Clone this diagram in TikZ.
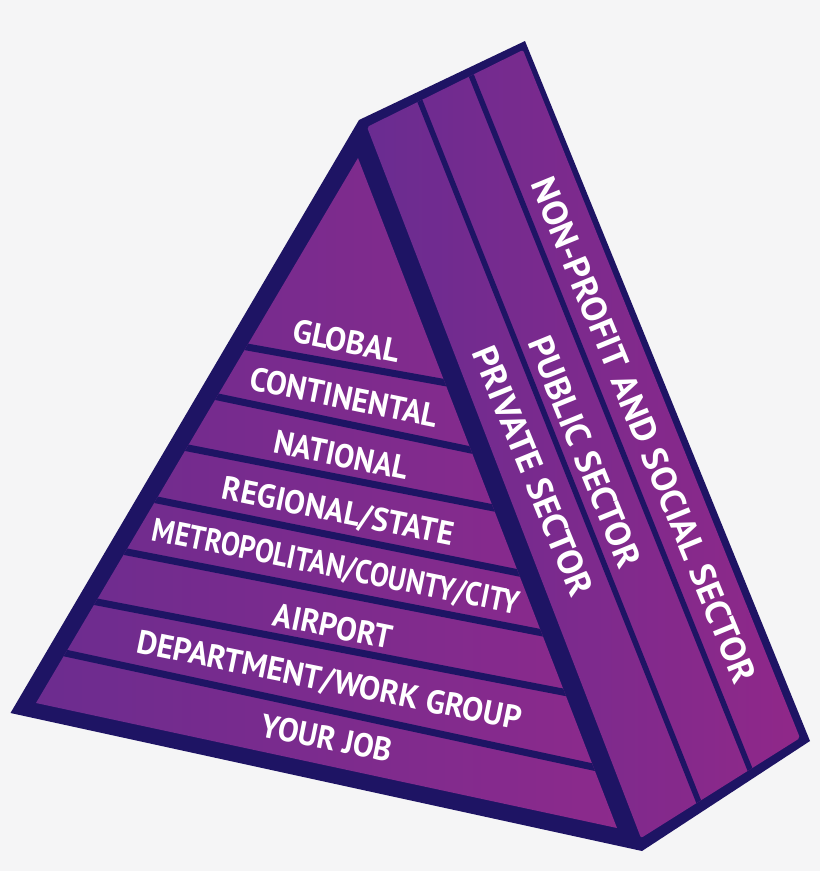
\documentclass[tikz,border=0pt]{standalone}
\usepackage{fontspec}
\usepackage{graphicx}
\usetikzlibrary{calc}
\newfontfamily\lab{PT Sans}
\newcommand\fitw[2]{\resizebox{#1pt}{\height}{#2}}
\definecolor{navy}{HTML}{1E1464}
\definecolor{bgc}{HTML}{F5F5F6}
\definecolor{purpL}{HTML}{6C2C8F}
\definecolor{purpR}{HTML}{8C2A8C}
\definecolor{sideL}{HTML}{6A2C91}
\definecolor{sideR}{HTML}{902889}
\tikzset{
  lvl/.style={text=white, font=\lab\bfseries\fontsize{33}{33}\selectfont, rotate=-11.5, inner sep=0pt},
  sec/.style={text=white, font=\lab\bfseries\fontsize{35}{35}\selectfont, rotate=-67.8, inner sep=0pt},
  sepline/.style={navy, line width=7pt},
  divline/.style={navy, line width=5.5pt},
}
\begin{document}
\begin{tikzpicture}[x=1pt,y=-1pt]
\useasboundingbox (0,0) rectangle (820,871);
\fill[bgc] (0,0) rectangle (820,871);
% silhouette
\fill[navy] (10.5,713) -- (359,120) -- (525,41) -- (810,741) -- (642,851) -- cycle;
% front face
\shade[left color=purpL, right color=purpR] (36,703) -- (358,158) -- (617,828) -- cycle;
% side face
\shade[left color=sideL, right color=sideR, rounded corners=2pt] (367,127) -- (523,50) -- (800,738) -- (641,838) -- cycle;
% separators on front face
\begin{scope}
\clip (36,703) -- (358,158) -- (617,828) -- cycle;
\foreach \ax/\ay/\bx/\by in {247/347/447/383, 218/397/471/450, 188/448/494/508, 157/500/519/573, 127/552/543/633, 97/602/568/693, 65/653/593/767}{
  \draw[sepline] ($(\ax,\ay)!-0.2!(\bx,\by)$) -- ($(\bx,\by)!-0.2!(\ax,\ay)$);
}
\end{scope}
% dividers on side face
\begin{scope}
\clip (367,127) -- (523,50) -- (800,738) -- (641,838) -- cycle;
\draw[divline] ($(419.5,100)!-0.1!(700,805)$) -- ($(700,805)!-0.1!(419.5,100)$);
\draw[divline] ($(470.5,73.5)!-0.1!(750,769.5)$) -- ($(750,769.5)!-0.1!(470.5,73.5)$);
\end{scope}
% level labels
\node[lvl] (global) at (347,341) {\fitw{108}{GLOBAL}};
\node[lvl] (continental) at (344,397) {\fitw{191}{CONTINENTAL}};
\node[lvl] (national) at (341,455) {\fitw{136}{NATIONAL}};
\node[lvl] (regional) at (338,513) {\fitw{235}{REGIONAL/STATE}};
\node[lvl] (metro) at (336,568) {\fitw{374}{METROPOLITAN/COUNTY/CITY}};
\node[lvl] (airport) at (333,626) {\fitw{120}{AIRPORT}};
\node[lvl] (dept) at (329,682) {\fitw{391}{DEPARTMENT/WORK GROUP}};
\node[lvl] (yourjob) at (327,738) {\fitw{133}{YOUR JOB}};
% sector labels
\node[sec] (private) at (533,471) {\fitw{266}{PRIVATE SECTOR}};
\node[sec] (public) at (585,452) {\fitw{246}{PUBLIC SECTOR}};
\node[sec] (nonprofit) at (644,430) {\fitw{542}{NON-PROFIT AND SOCIAL SECTOR}};
\end{tikzpicture}
\end{document}
